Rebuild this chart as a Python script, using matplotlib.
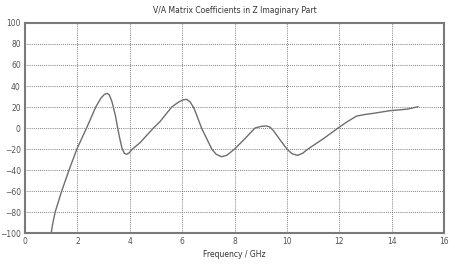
import matplotlib
matplotlib.use("Agg")
import matplotlib.pyplot as plt

freq = [1.0, 1.05, 1.15, 1.4, 1.68, 1.98, 2.35, 2.7, 2.9, 3.03, 3.13, 3.22, 3.32, 3.45, 3.6,
        3.7, 3.79, 3.88, 3.98, 4.1, 4.39, 4.9, 5.15, 5.6, 5.85, 6.03, 6.17, 6.3, 6.45,
        6.74, 7.13, 7.3, 7.5, 7.7, 8.0, 8.4, 8.78, 9.0, 9.2, 9.35, 9.5, 9.7, 10.0, 10.2,
        10.4, 10.6, 10.8, 11.4, 11.95, 12.3, 12.66, 13.0, 13.3, 13.93, 14.6, 15.0]
value = [-100, -92, -80, -60, -40, -20, 0, 20, 28.5, 32, 33, 31.5, 25, 12, -8,
         -19, -24, -25, -23.5, -20, -14, 0, 6, 20, 24.5, 26.8, 27.3, 25, 19,
         0, -20, -25, -27.3, -26, -20, -10, 0, 1.5, 2, 1, -3, -10, -20, -24.5,
         -26, -24, -20, -10, 0, 6, 11.4, 13, 14, 16.5, 18, 20.3]
xticks = list(range(0, 17, 2))
yticks = list(range(-100, 101, 20))

fig = plt.figure(figsize=(4.55, 2.64), dpi=100)
ax = fig.add_axes([0.055, 0.117, 0.921, 0.796])
ax.plot(freq, value, color="#6e6e6e", lw=1.0)
ax.set_xlim(0, 16)
ax.set_ylim(-100, 100)
ax.set_xticks(xticks)
ax.set_yticks(yticks)
ax.tick_params(labelsize=5.5, colors="#555555", length=0, pad=3)
ax.grid(True, color="#555555", linestyle=(0, (1, 1.5)), lw=0.6)
for s in ax.spines.values():
    s.set_color("#7a7a7a")
    s.set_linewidth(1.5)
ax.set_title("V/A Matrix Coefficients in Z Imaginary Part", fontsize=5.5, color="#333333", pad=7)
ax.set_xlabel("Frequency / GHz", fontsize=5.5, color="#333333", labelpad=3)
fig.savefig("out.png", dpi=100)
